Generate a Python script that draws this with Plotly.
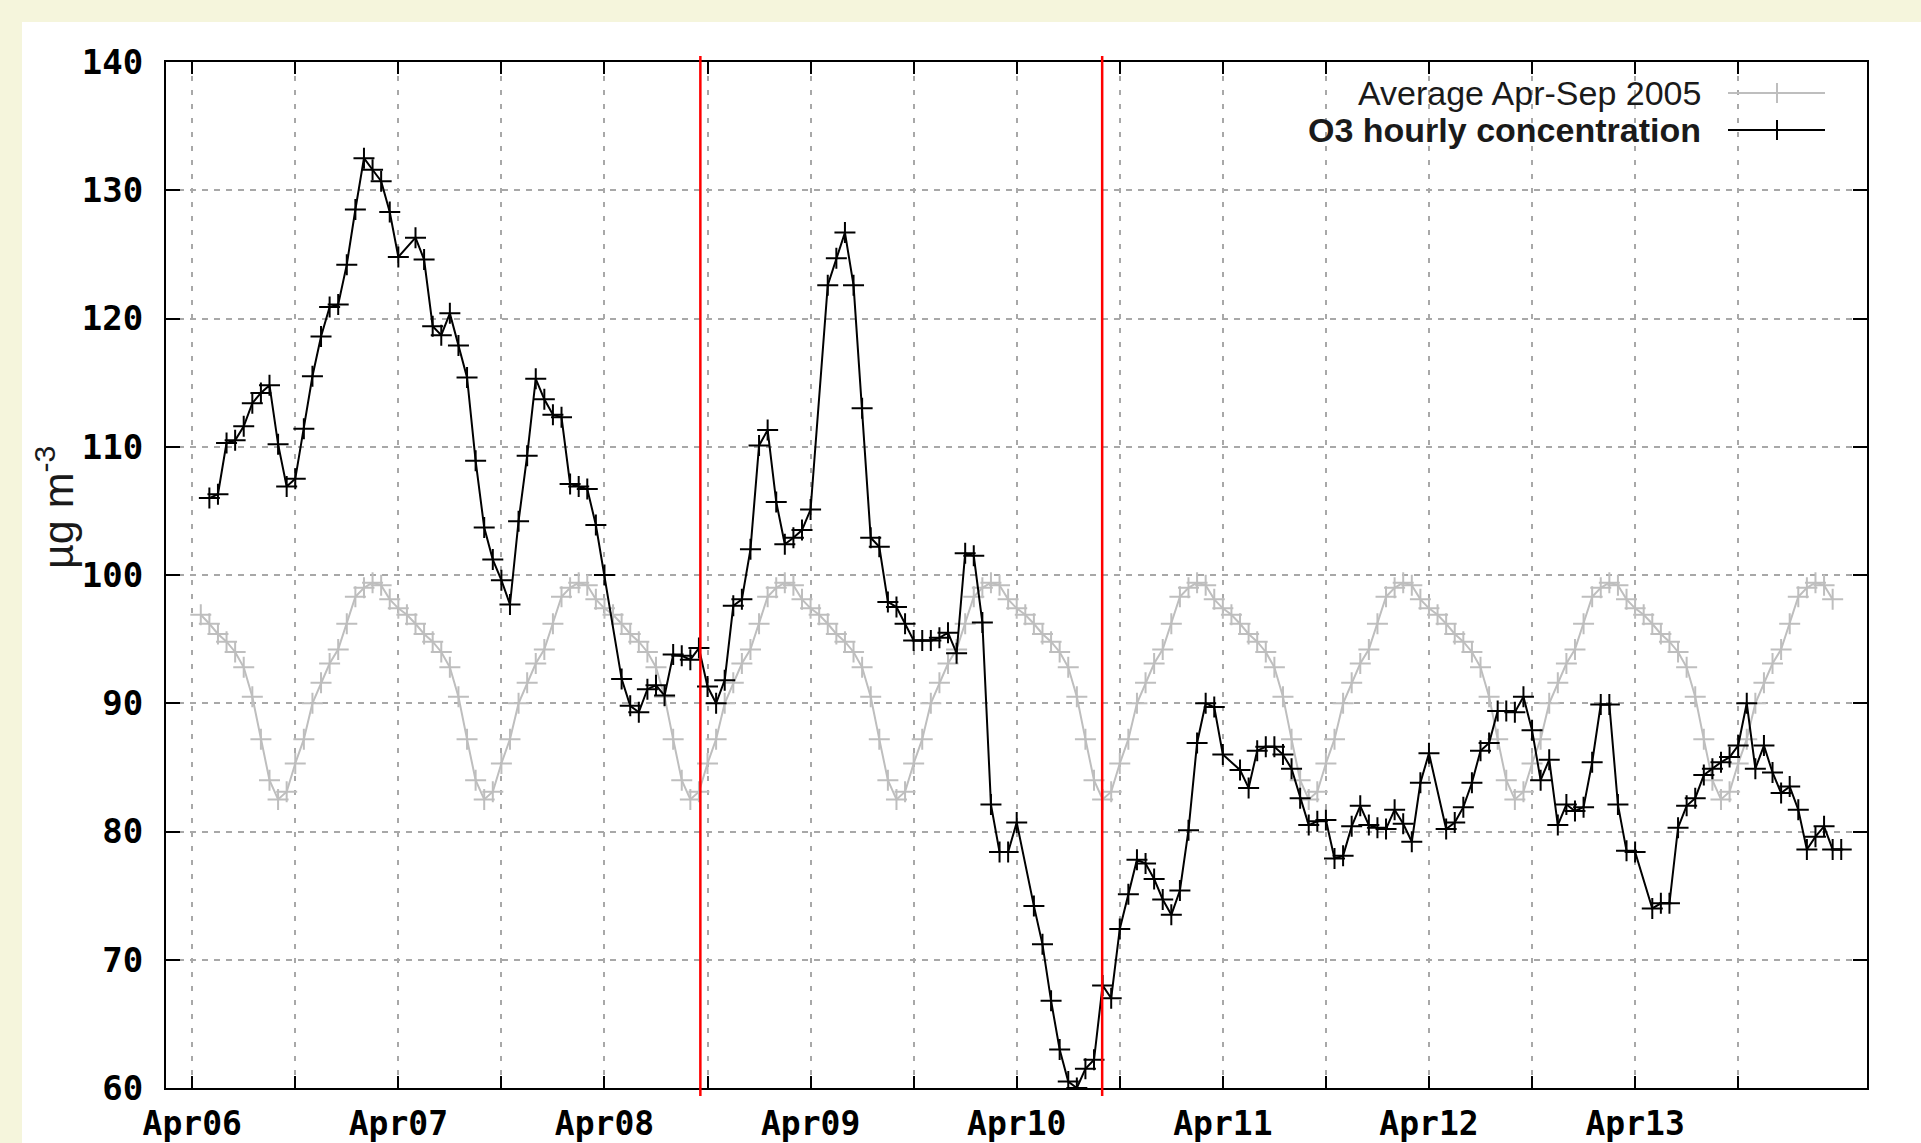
import pandas as pd
import plotly.graph_objects as go

# ---------------------------------------------------------------
# Data
# ---------------------------------------------------------------
# Hourly O3 concentration (µg m-3). Each day holds the readings from
# 02:00 to 24:00; the 01:00 reading is absent every day.
o3_days = ["2005-04-06", "2005-04-07", "2005-04-08", "2005-04-09",
           "2005-04-10", "2005-04-11", "2005-04-12", "2005-04-13"]
o3_apr06 = [106.0, 106.3, 110.3, 110.5, 111.6, 113.4, 114.2, 114.8, 110.2, 106.9, 107.5, 111.4,
            115.5, 118.6, 120.9, 121.1, 124.2, 128.5, 132.5, 131.6, 130.7, 128.3, 124.8]
o3_apr07 = [126.3, 124.6, 119.4, 118.7, 120.4, 117.9, 115.4, 108.9, 103.7, 101.2, 99.6, 97.7,
            104.2, 109.3, 115.3, 113.7, 112.5, 112.3, 107.1, 106.9, 106.7, 103.9, 100.0]
o3_apr08 = [91.9, 89.8, 89.3, 91.1, 91.4, 90.6, 93.8, 93.7, 93.4, 94.3, 91.3, 90.0,
            91.8, 97.6, 98.1, 102.0, 110.1, 111.3, 105.7, 102.4, 102.9, 103.5, 105.1]
o3_apr09 = [122.6, 124.7, 126.7, 122.6, 113.0, 102.9, 102.2, 97.9, 97.5, 96.2, 94.9, 94.9,
            94.9, 95.1, 95.5, 93.9, 101.7, 101.5, 96.3, 82.1, 78.4, 78.4, 80.7]
o3_apr10 = [74.2, 71.2, 66.8, 63.0, 60.5, 60.0, 61.5, 62.2, 68.0, 67.0, 72.4, 75.1,
            77.8, 77.5, 76.3, 74.7, 73.5, 75.4, 80.1, 86.9, 90.0, 89.7, 86.0]
o3_apr11 = [84.8, 83.4, 86.3, 86.6, 86.6, 86.0, 84.9, 82.6, 80.5, 80.8, 80.9, 77.9,
            78.1, 80.4, 82.0, 80.5, 80.3, 80.2, 81.7, 80.6, 79.2, 83.8, 86.1]
o3_apr12 = [80.2, 80.7, 81.9, 83.8, 86.3, 86.9, 89.4, 89.4, 89.3, 90.5, 87.9, 84.0,
            85.6, 80.5, 82.1, 81.6, 81.9, 85.4, 89.9, 89.9, 82.1, 78.5, 78.4]
o3_apr13 = [74.0, 74.4, 74.4, 80.3, 82.0, 82.6, 84.4, 84.9, 85.4, 85.8, 86.7, 90.0,
            84.9, 86.7, 84.6, 83.0, 83.5, 81.7, 78.6, 79.6, 80.4, 78.6, 78.6]
o3_first_hour = 2

# Average Apr-Sep 2005 diurnal values, 01:00 .. 24:00 of each day
avg_apr06 = [96.9, 96.2, 95.4, 94.8, 94.0, 92.8, 90.5, 87.2, 84.0, 82.5, 83.1, 85.3,
             87.2, 90.0, 91.6, 93.1, 94.2, 96.2, 98.3, 99.0, 99.4, 99.2, 98.1, 97.4]
avg_apr07 = [96.9, 96.2, 95.4, 94.8, 94.0, 92.8, 90.5, 87.2, 84.0, 82.5, 83.1, 85.3,
             87.2, 90.0, 91.6, 93.1, 94.2, 96.2, 98.3, 99.0, 99.4, 99.2, 98.1, 97.4]
avg_apr08 = [96.9, 96.2, 95.4, 94.8, 94.0, 92.8, 90.5, 87.2, 84.0, 82.5, 83.1, 85.3,
             87.2, 90.0, 91.6, 93.1, 94.2, 96.2, 98.3, 99.0, 99.4, 99.2, 98.1, 97.4]
avg_apr09 = [96.9, 96.2, 95.4, 94.8, 94.0, 92.8, 90.5, 87.2, 84.0, 82.5, 83.1, 85.3,
             87.2, 90.0, 91.6, 93.1, 94.2, 96.2, 98.3, 99.0, 99.4, 99.2, 98.1, 97.4]
avg_apr10 = [96.9, 96.2, 95.4, 94.8, 94.0, 92.8, 90.5, 87.2, 84.0, 82.5, 83.1, 85.3,
             87.2, 90.0, 91.6, 93.1, 94.2, 96.2, 98.3, 99.0, 99.4, 99.2, 98.1, 97.4]
avg_apr11 = [96.9, 96.2, 95.4, 94.8, 94.0, 92.8, 90.5, 87.2, 84.0, 82.5, 83.1, 85.3,
             87.2, 90.0, 91.6, 93.1, 94.2, 96.2, 98.3, 99.0, 99.4, 99.2, 98.1, 97.4]
avg_apr12 = [96.9, 96.2, 95.4, 94.8, 94.0, 92.8, 90.5, 87.2, 84.0, 82.5, 83.1, 85.3,
             87.2, 90.0, 91.6, 93.1, 94.2, 96.2, 98.3, 99.0, 99.4, 99.2, 98.1, 97.4]
avg_apr13 = [96.9, 96.2, 95.4, 94.8, 94.0, 92.8, 90.5, 87.2, 84.0, 82.5, 83.1, 85.3,
             87.2, 90.0, 91.6, 93.1, 94.2, 96.2, 98.3, 99.0, 99.4, 99.2, 98.1]
avg_first_hour = 1

# Event markers (vertical red lines)
event_times = ["2005-04-08 11:10", "2005-04-10 09:57"]

# Axes
tick_labels = ["Apr06", "Apr07", "Apr08", "Apr09", "Apr10", "Apr11", "Apr12", "Apr13"]
x_range = ["2005-04-05 20:57", "2005-04-14 03:00"]
y_range = [60, 140]
y_ticks = [60, 70, 80, 90, 100, 110, 120, 130, 140]

series_o3_name = "O3 hourly concentration"
series_avg_name = "Average Apr-Sep 2005"
y_title = "µg m<sup>-3</sup>"

# ---------------------------------------------------------------
# Helpers
# ---------------------------------------------------------------
FIG_W, FIG_H = 1921, 1143
L, R, T, B = 166, 1867, 62, 1088          # plot box in pixels
PW, PH = R - L, B - T


def px(x):
    return (x - L) / PW


def py(y):
    return (B - y) / PH


def day_series(days, rows, first_hour):
    times, vals = [], []
    for d, row in zip(days, rows):
        start = pd.Timestamp(d) + pd.Timedelta(hours=first_hour)
        times.extend(pd.date_range(start, periods=len(row), freq="h"))
        vals.extend(row)
    return times, vals


o3_t, o3_v = day_series(o3_days,
                        [o3_apr06, o3_apr07, o3_apr08, o3_apr09,
                         o3_apr10, o3_apr11, o3_apr12, o3_apr13],
                        o3_first_hour)
avg_t, avg_v = day_series(o3_days,
                          [avg_apr06, avg_apr07, avg_apr08, avg_apr09,
                           avg_apr10, avg_apr11, avg_apr12, avg_apr13],
                          avg_first_hour)

GRAY = "#bebebe"
BLACK = "#000000"
CREAM = "#f5f5dc"
MARK = dict(symbol="cross-thin", size=15)

fig = go.Figure()
fig.add_trace(go.Scatter(
    x=avg_t, y=avg_v, mode="lines+markers", name=series_avg_name,
    line=dict(color=GRAY, width=2),
    marker=dict(MARK, color=GRAY, line=dict(width=2, color=GRAY)),
    showlegend=False, hoverinfo="skip"))
fig.add_trace(go.Scatter(
    x=o3_t, y=o3_v, mode="lines+markers", name=series_o3_name,
    line=dict(color=BLACK, width=2),
    marker=dict(MARK, color=BLACK, line=dict(width=2, color=BLACK)),
    showlegend=False, hoverinfo="skip"))

# x ticks every 12 hours, labelled at midnight
tick_vals = pd.date_range(o3_days[0], periods=2 * len(tick_labels), freq="12h")
tick_text = []
for lab in tick_labels:
    tick_text += [lab, ""]

shapes = []
# white page on a cream frame (top and left edges)
shapes.append(dict(type="rect", xref="paper", yref="paper", layer="below",
                   x0=px(22), x1=px(FIG_W + 40), y0=py(FIG_H + 40), y1=py(22),
                   fillcolor="#ffffff", line=dict(width=0)))
# event lines, slightly longer than the plot box
for t in event_times:
    shapes.append(dict(type="line", xref="x", yref="paper", layer="above",
                       x0=t, x1=t, y0=py(1096), y1=py(56),
                       line=dict(color="#ff0000", width=2.5)))

# hand-drawn key in the upper right corner
KEY_TEXT_X = 1703
KEY_X0, KEY_X1, KEY_MX = 1728, 1825, 1777
key_rows = [(93, series_avg_name, GRAY, False), (130, series_o3_name, BLACK, True)]
annotations = []
for yy, name, col, bold in key_rows:
    shapes.append(dict(type="line", xref="paper", yref="paper",
                       x0=px(KEY_X0), x1=px(KEY_X1), y0=py(yy), y1=py(yy),
                       line=dict(color=col, width=2)))
    shapes.append(dict(type="line", xref="paper", yref="paper",
                       x0=px(KEY_MX), x1=px(KEY_MX), y0=py(yy - 10), y1=py(yy + 10),
                       line=dict(color=col, width=2)))
    annotations.append(dict(
        xref="paper", yref="paper", x=px(KEY_TEXT_X), y=py(yy),
        xanchor="right", yanchor="middle", showarrow=False,
        text=name,
        font=dict(family="Liberation Sans", size=34, color="#1a1a1a",
                  weight="bold" if bold else "normal")))

# y-axis title
annotations.append(dict(
    xref="paper", yref="paper", x=px(55), y=py(508),
    xanchor="center", yanchor="middle", showarrow=False, textangle=-90,
    text=y_title,
    font=dict(family="Liberation Sans", size=43, color="#1a1a1a")))

TICKFONT = dict(family="DejaVu Sans Mono", size=34, color="#000000", weight="bold")
XTICKFONT = dict(TICKFONT, size=33)

fig.update_layout(
    width=FIG_W, height=FIG_H,
    margin=dict(l=L, r=FIG_W - R, t=T, b=FIG_H - B, pad=0, autoexpand=False),
    paper_bgcolor=CREAM, plot_bgcolor="#ffffff",
    showlegend=False,
    shapes=shapes, annotations=annotations,
    xaxis=dict(
        type="date", range=x_range, automargin=False,
        tickmode="array", tickvals=tick_vals, ticktext=tick_text,
        ticks="inside", ticklen=12, tickwidth=2, tickcolor="#000000",
        showline=True, linecolor="#000000", linewidth=2, mirror="ticks",
        showgrid=True, gridcolor="#a8a8a8", gridwidth=1.6, griddash="5px,9px",
        zeroline=False, tickfont=XTICKFONT, ticklabelstandoff=5,
    ),
    yaxis=dict(
        range=y_range, automargin=False, tickmode="array", tickvals=y_ticks,
        ticks="inside", ticklen=14, tickwidth=2, tickcolor="#000000",
        showline=True, linecolor="#000000", linewidth=2, mirror="ticks",
        showgrid=True, gridcolor="#a8a8a8", gridwidth=1.6, griddash="6px,6px",
        zeroline=False, tickfont=TICKFONT, ticklabelstandoff=14,
    ),
)

fig.write_html("out.html")
